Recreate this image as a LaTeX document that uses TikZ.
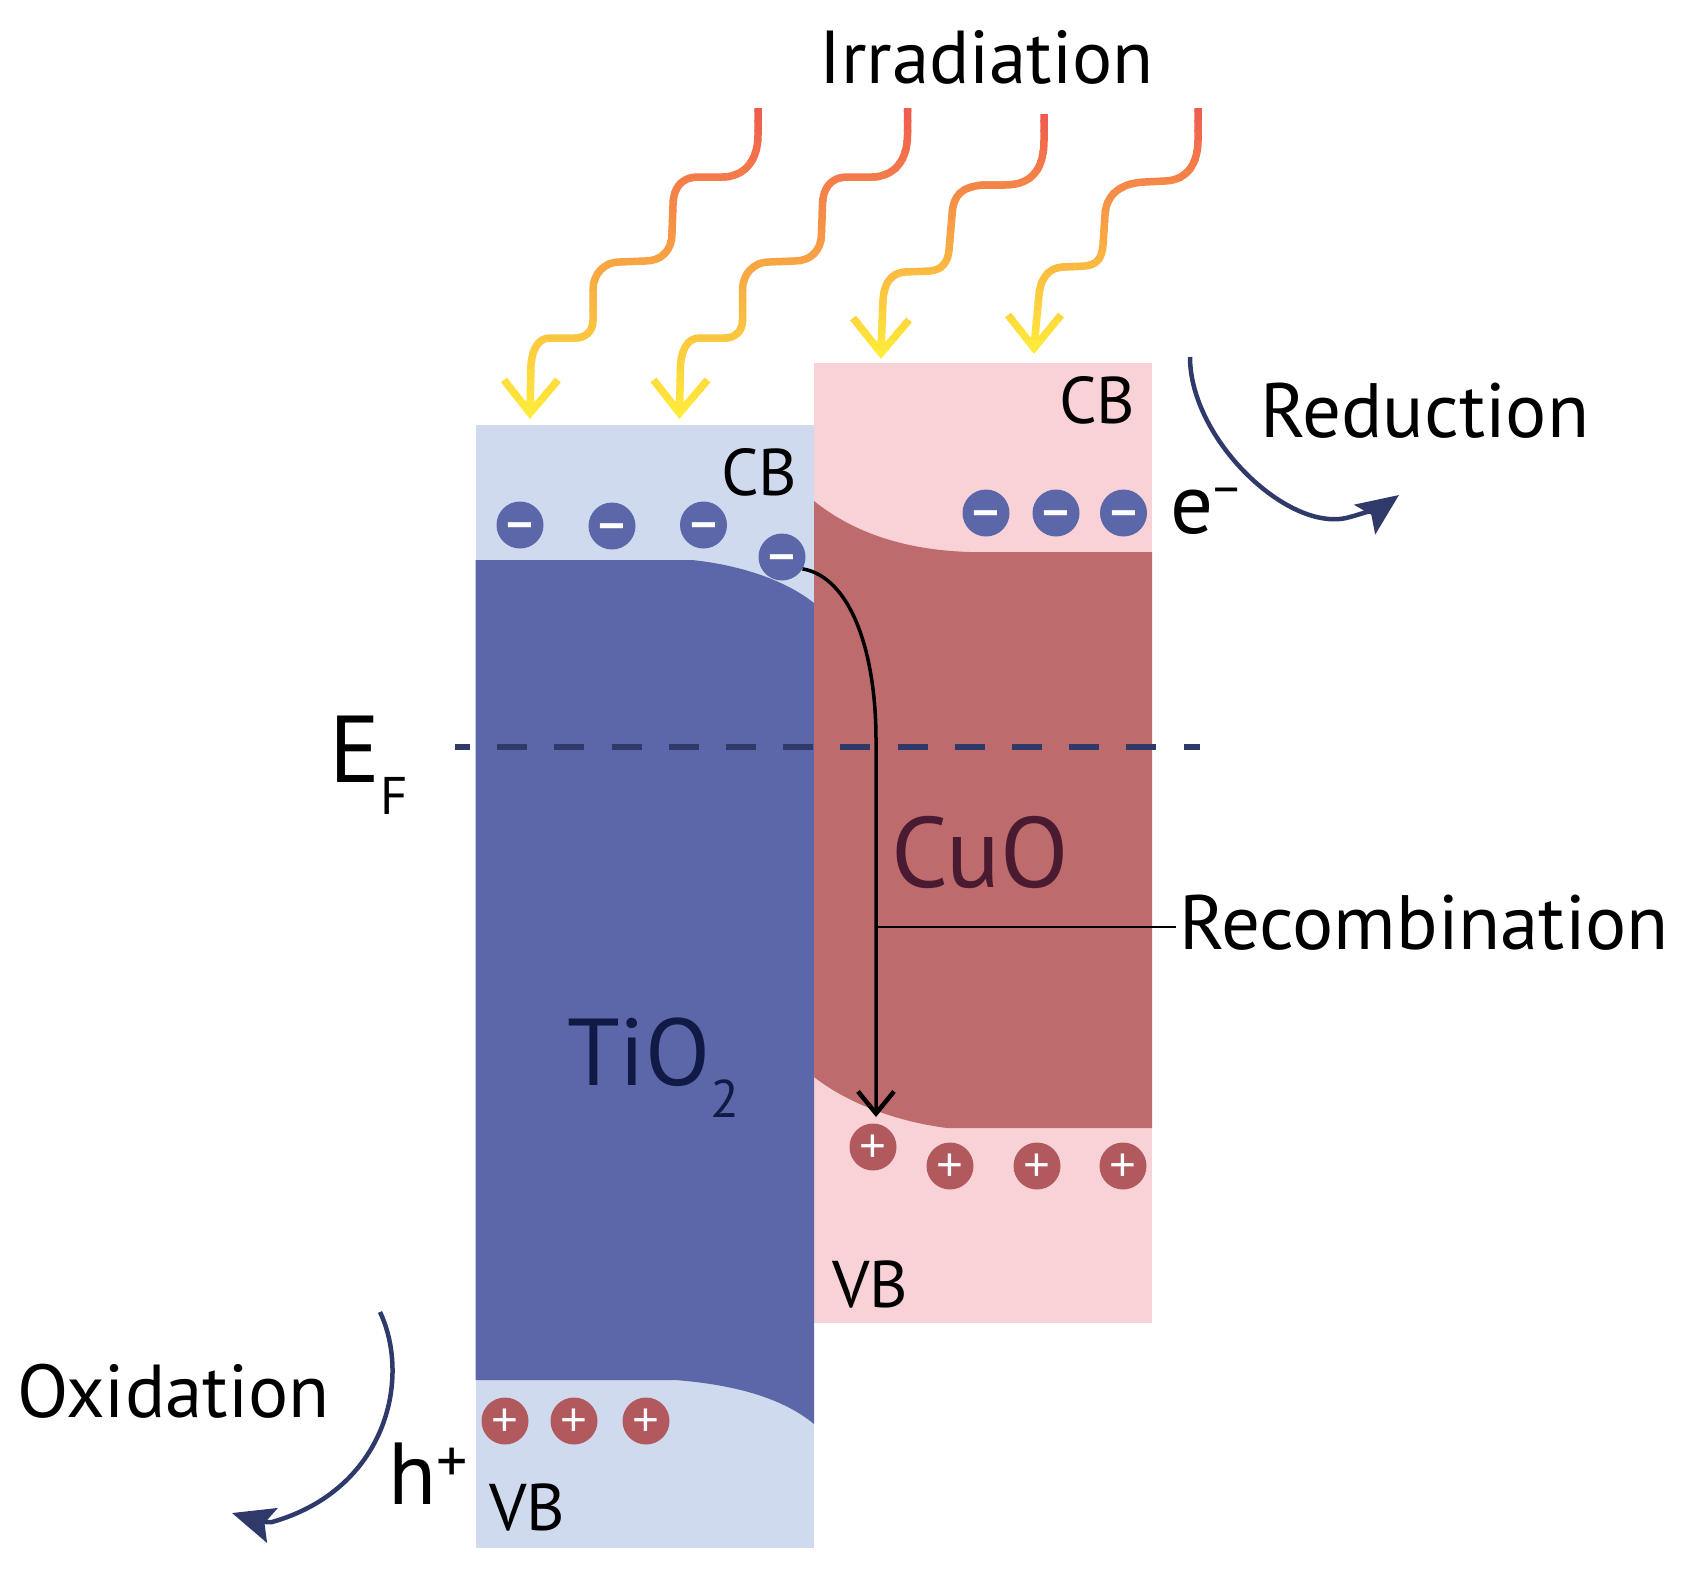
\documentclass[tikz,border=0pt]{standalone}
\usepackage{fontspec}
\setmainfont{PT Sans}
\newfontfamily\signfont{Liberation Sans}
\usepackage{tikz}
\usetikzlibrary{arrows.meta}

\definecolor{tiolight}{HTML}{D0DAEF}
\definecolor{tiodark}{HTML}{5C67A9}
\definecolor{cuolight}{HTML}{F8D2D6}
\definecolor{cuodark}{HTML}{BD6B6D}
\definecolor{holecol}{HTML}{B2595D}
\definecolor{navycol}{HTML}{2F3A6B}
\definecolor{tiotext}{HTML}{111A45}
\definecolor{cuotext}{HTML}{4A1A30}
\definecolor{rayred}{HTML}{F05A4E}
\definecolor{rayyellow}{HTML}{FFEB3A}

\tikzset{
	label18/.style = {anchor = base west, inner sep = 0pt, font = \fontsize{75}{80}\selectfont},
	labelcb/.style = {anchor = base west, inner sep = 0pt, font = \fontsize{66}{70}\selectfont},
	labelbig/.style = {anchor = base west, inner sep = 0pt, font = \fontsize{95}{100}\selectfont},
	charge/.style = {circle, inner sep = 0pt, minimum size = 47pt, text = white, text depth = 0pt},
	electron/.style = {charge, fill = tiodark, text height = 30pt, font = \signfont\bfseries\fontsize{46}{46}\selectfont},
	hole/.style = {charge, fill = holecol, text height = 28pt, font = \signfont\fontsize{46}{46}\selectfont},
	rayline/.style = {line width = 7.5pt},
	sideflow/.style = {draw = navycol, line width = 4.5pt, -{Stealth[length = 42pt, width = 36pt, inset = 8pt]}}
}

% one wavy ray, coloured in bands from top to bottom
\newcommand{\drawray}[3]{
	\foreach \i in {0,...,34}{
		\pgfmathsetmacro{\bandy}{100 + 10*\i}
		\pgfmathsetmacro{\p}{max(0, min(100, 100*((\bandy + 5 - #2)/(#3 - #2))))}
		\begin{scope}
			\clip (0, \bandy) rectangle (1686, \bandy + 11);
			\draw[rayline, draw = rayyellow!\p!rayred] #1;
		\end{scope}
	}
}

\begin{document}
\begin{tikzpicture}[x = 1pt, y = -1pt]
	\useasboundingbox (0,0) rectangle (1686,1577);

	%-------------------- bands
	\fill[tiolight] (475.5,425) rectangle (814,1548);
	\fill[cuolight] (814,363) rectangle (1152,1323);
	\fill[tiodark] (475.5,560) -- (692,560) .. controls (740,565) and (785,580) .. (814,603)
		-- (814,1424) .. controls (785,1400) and (740,1385) .. (675,1380) -- (475.5,1380) -- cycle;
	\fill[cuodark] (814,501) .. controls (850,530) and (900,550) .. (970,552) -- (1152,552)
		-- (1152,1128) -- (947,1128) .. controls (900,1122) and (850,1105) .. (814,1077) -- cycle;

	%-------------------- rays
	\def\rayleft{(758,108) -- (758,135) .. controls (758,160) and (745,177) .. (722,177) -- (698,177)
		.. controls (680,177) and (673,190) .. (673,205) -- (672,233) .. controls (672,252) and (660,261) .. (645,261)
		-- (620,262) .. controls (603,262) and (593,275) .. (593,290) -- (593,320) .. controls (593,332) and (585,338) .. (575,338)
		-- (550,338) .. controls (538,338) and (532,350) .. (531,365) -- (530,412)
		(504,380) -- (530,413) -- (558,380)}
	\drawray{\rayleft}{108}{413}
	\drawray{[xshift = 149.5pt] \rayleft}{108}{413}
	\drawray{(1044,114) -- (1044,140) .. controls (1044,165) and (1035,185) .. (1005,185) -- (985,185)
		.. controls (962,186) and (953,195) .. (952,215) -- (949,250) .. controls (948,262) and (942,270) .. (930,271)
		-- (905,272) .. controls (890,273) and (884,285) .. (883,300) -- (881,352)
		(853,318) -- (881,353) -- (909,320)}{114}{353}
	\drawray{(1198,108) -- (1198,140) .. controls (1198,160) and (1190,180) .. (1165,181) -- (1145,182)
		.. controls (1120,183) and (1106,195) .. (1105,215) -- (1103,245) .. controls (1102,258) and (1097,265) .. (1085,266)
		-- (1062,267) .. controls (1048,268) and (1040,280) .. (1039,295) -- (1034,347)
		(1008,315) -- (1034,348) -- (1061,315)}{108}{348}

	%-------------------- Fermi level
	\coordinate (fermistart) at (455,747);
	\coordinate (fermiend) at (1200,747);
	\draw[navycol, line width = 6pt, dash pattern = on 30pt off 27.2pt, dash phase = 15pt] (fermistart) -- (fermiend);

	%-------------------- charges
	\foreach \name/\x/\y in {e1/520/525, e2/612/526, e3/703.5/525, e4/782/557, e5/986/513, e6/1056/513, e7/1123.5/513}
		\node[electron] (\name) at (\x,\y) {−};
	\foreach \name/\x/\y in {h1/873/1147, h2/950/1166, h3/1037/1166, h4/1123/1166, h5/505/1421, h6/574/1421, h7/646/1421}
		\node[hole] (\name) at (\x,\y) {+};

	%-------------------- labels
	\node[label18] (irrad) at (819,83) {Irradiation};
	\node[label18, font = \fontsize{77}{80}\selectfont] (reduct) at (1260,437) {Reduction};
	\node[label18] (oxid) at (17,1417) {Oxidation};
	\node[label18, font = \fontsize{77}{80}\selectfont] (recomb) at (1179,949) {Recombination};
	\node[labelcb] (cbtio) at (721,495) {CB};
	\node[labelcb] (cbcuo) at (1059,423) {CB};
	\node[labelcb] (vbtio) at (489,1530) {VB};
	\node[labelcb] (vbcuo) at (832,1307) {VB};
	\node[labelbig, text = tiotext] (tio) at (567,1085) {TiO\raisebox{-32pt}{\fontsize{53}{60}\selectfont 2}};
	\node[labelbig, text = cuotext, font = \fontsize{100}{100}\selectfont] (cuo) at (891,887) {CuO};
	\node[labelbig] (fermi) at (329,782) {E\raisebox{-32pt}{\fontsize{53}{60}\selectfont F}};
	\node[labelbig, font = \fontsize{85}{90}\selectfont] (elec) at (1170,533) {e\raisebox{26pt}{\fontsize{52}{55}\selectfont −}};
	\node[labelbig, font = \fontsize{88}{90}\selectfont] (hplus) at (388,1504) {h\raisebox{22pt}{\fontsize{62}{65}\selectfont +}};

	%-------------------- connectors
	\coordinate (recombtip) at (876,1117);
	\coordinate (recombjoin) at (876,927);
	\draw[line width = 3.5pt, -{Straight Barb[length = 22pt, width = 36pt, line width = 4.5pt]}]
		(e4.-30) .. controls (850,577) and (876,650) .. (876,740) -- (recombtip);
	\coordinate (recombend) at (1176,927);
	\draw[line width = 2.5pt] (recombjoin) -- (recombend);

	\coordinate (redstart) at (1190,357);
	\coordinate (redtip) at (1399,495);
	\draw[sideflow] (redstart) .. controls (1190,440) and (1290,535) .. (1350,517)
		.. controls (1365,513) and (1385,505) .. (redtip);
	\coordinate (oxstart) at (380,1312);
	\coordinate (oxtip) at (232,1513);
	\draw[sideflow] (oxstart) .. controls (412,1380) and (385,1490) .. (272,1522)
		.. controls (258,1523) and (245,1517) .. (oxtip);
\end{tikzpicture}
\end{document}
